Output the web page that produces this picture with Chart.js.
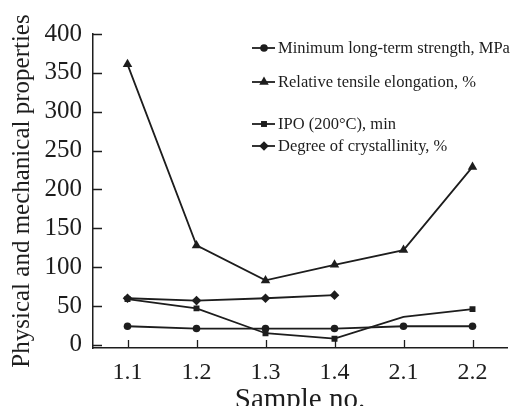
<!DOCTYPE html>
<html>
<head>
<meta charset="utf-8">
<script src="https://cdn.jsdelivr.net/npm/chart.js@4"></script>
<style>
  html, body { margin: 0; padding: 0; background: #fff; }
  #wrap { width: 514px; height: 406px; position: relative; }
</style>
</head>
<body>
<div id="wrap"><canvas id="chart"></canvas></div>
<script>
// Data
const samples = ["1.1", "1.2", "1.3", "1.4", "2.1", "2.2"];
const strength = [24, 21, 21, 21, 24, 24];
const elongation = [361, 128, 83, 103, 122, 229];
const ipo = [59, 47, 15, 8, 36, 46];
const crystallinity = [60, 57, 60, 64, null, null];
const yTicks = [0, 50, 100, 150, 200, 250, 300, 350, 400];
const seriesNames = [
  "Minimum long-term strength, MPa",
  "Relative tensile elongation, %",
  "IPO (200°C), min",
  "Degree of crystallinity, %"
];

const ink = "#1d1d1d";
const serif = "'Liberation Serif', 'Times New Roman', serif";

// inward tick marks on both axes
const innerTicks = {
  id: "innerTicks",
  afterDraw(chart) {
    const { ctx, chartArea, scales } = chart;
    ctx.save();
    ctx.strokeStyle = ink;
    ctx.lineWidth = 1.3;
    ctx.beginPath();
    samples.forEach((s, i) => {
      const px = Math.round(scales.x.getPixelForValue(i)) + 0.5;
      ctx.moveTo(px, chartArea.bottom);
      ctx.lineTo(px, chartArea.bottom - 8);
    });
    yTicks.forEach((v) => {
      const py = Math.round(scales.y.getPixelForValue(v)) + 0.5;
      ctx.moveTo(chartArea.left, py);
      ctx.lineTo(chartArea.left + 9, py);
    });
    ctx.stroke();
    ctx.restore();
  }
};

// legend drawn inside the plot, rows spaced like the original
const insideLegend = {
  id: "insideLegend",
  afterDraw(chart) {
    const { ctx } = chart;
    const rowsY = [48, 82, 124, 146];
    ctx.save();
    ctx.font = "16.5px " + serif;
    ctx.textBaseline = "middle";
    ctx.fillStyle = ink;
    chart.data.datasets.forEach((ds, i) => {
      const y = rowsY[i];
      ctx.strokeStyle = ink;
      ctx.lineWidth = 1.8;
      ctx.beginPath();
      ctx.moveTo(252, y);
      ctx.lineTo(275, y);
      ctx.stroke();
      Chart.helpers.drawPoint(ctx, {
        pointStyle: ds.pointStyle,
        radius: ds.legendRadius,
        rotation: 0,
        borderWidth: 0
      }, 264, y);
      ctx.fillText(seriesNames[i], 278, y + 1);
    });
    ctx.restore();
  }
};

const lineSet = (label, data, style, radius) => ({
  label: label,
  data: data,
  borderColor: ink,
  backgroundColor: ink,
  borderWidth: 1.8,
  pointStyle: style,
  pointRadius: radius,
  pointBackgroundColor: ink,
  pointBorderColor: ink,
  pointBorderWidth: 0,
  legendRadius: radius,
  tension: 0,
  spanGaps: false
});

new Chart(document.getElementById("chart"), {
  type: "line",
  data: {
    labels: samples,
    datasets: [
      lineSet(seriesNames[0], strength, "circle", 3.8),
      lineSet(seriesNames[1], elongation, "triangle", 5.5),
      // no marker drawn at 2.1 for IPO
      Object.assign(lineSet(seriesNames[2], ipo, "rect", 4.2), {
        pointRadius: [4.2, 4.2, 4.2, 4.2, 0, 4.2]
      }),
      lineSet(seriesNames[3], crystallinity, "rectRot", 4.8)
    ]
  },
  options: {
    responsive: true,
    maintainAspectRatio: false,
    animation: false,
    devicePixelRatio: 1,
    layout: { padding: { top: 34, right: 7, left: 0, bottom: 0 } },
    plugins: {
      legend: { display: false },
      tooltip: { enabled: false }
    },
    scales: {
      x: {
        type: "category",
        offset: true,
        grid: { drawOnChartArea: false, drawTicks: false },
        border: { display: true, color: ink, width: 1.5 },
        ticks: {
          color: ink,
          padding: 10,
          font: { family: serif, size: 24 }
        },
        title: {
          display: true,
          text: "Sample no.",
          color: ink,
          font: { family: serif, size: 29, lineHeight: 1 },
          padding: { top: 0, bottom: -9 }
        },
        afterFit(scale) { scale.height = 58; }
      },
      y: {
        min: -4,
        max: 400,
        grid: { drawOnChartArea: false, drawTicks: false },
        border: { display: true, color: ink, width: 1.5 },
        ticks: {
          color: ink,
          padding: 11,
          font: { family: serif, size: 25 }
        },
        afterBuildTicks(scale) {
          scale.ticks = yTicks.map((v) => ({ value: v }));
        },
        title: {
          display: true,
          text: "Physical and mechanical properties",
          color: ink,
          font: { family: serif, size: 25 },
          padding: { top: 7, bottom: 0 }
        },
        afterFit(scale) { scale.width = 93; }
      }
    }
  },
  plugins: [innerTicks, insideLegend]
});
</script>
</body>
</html>
